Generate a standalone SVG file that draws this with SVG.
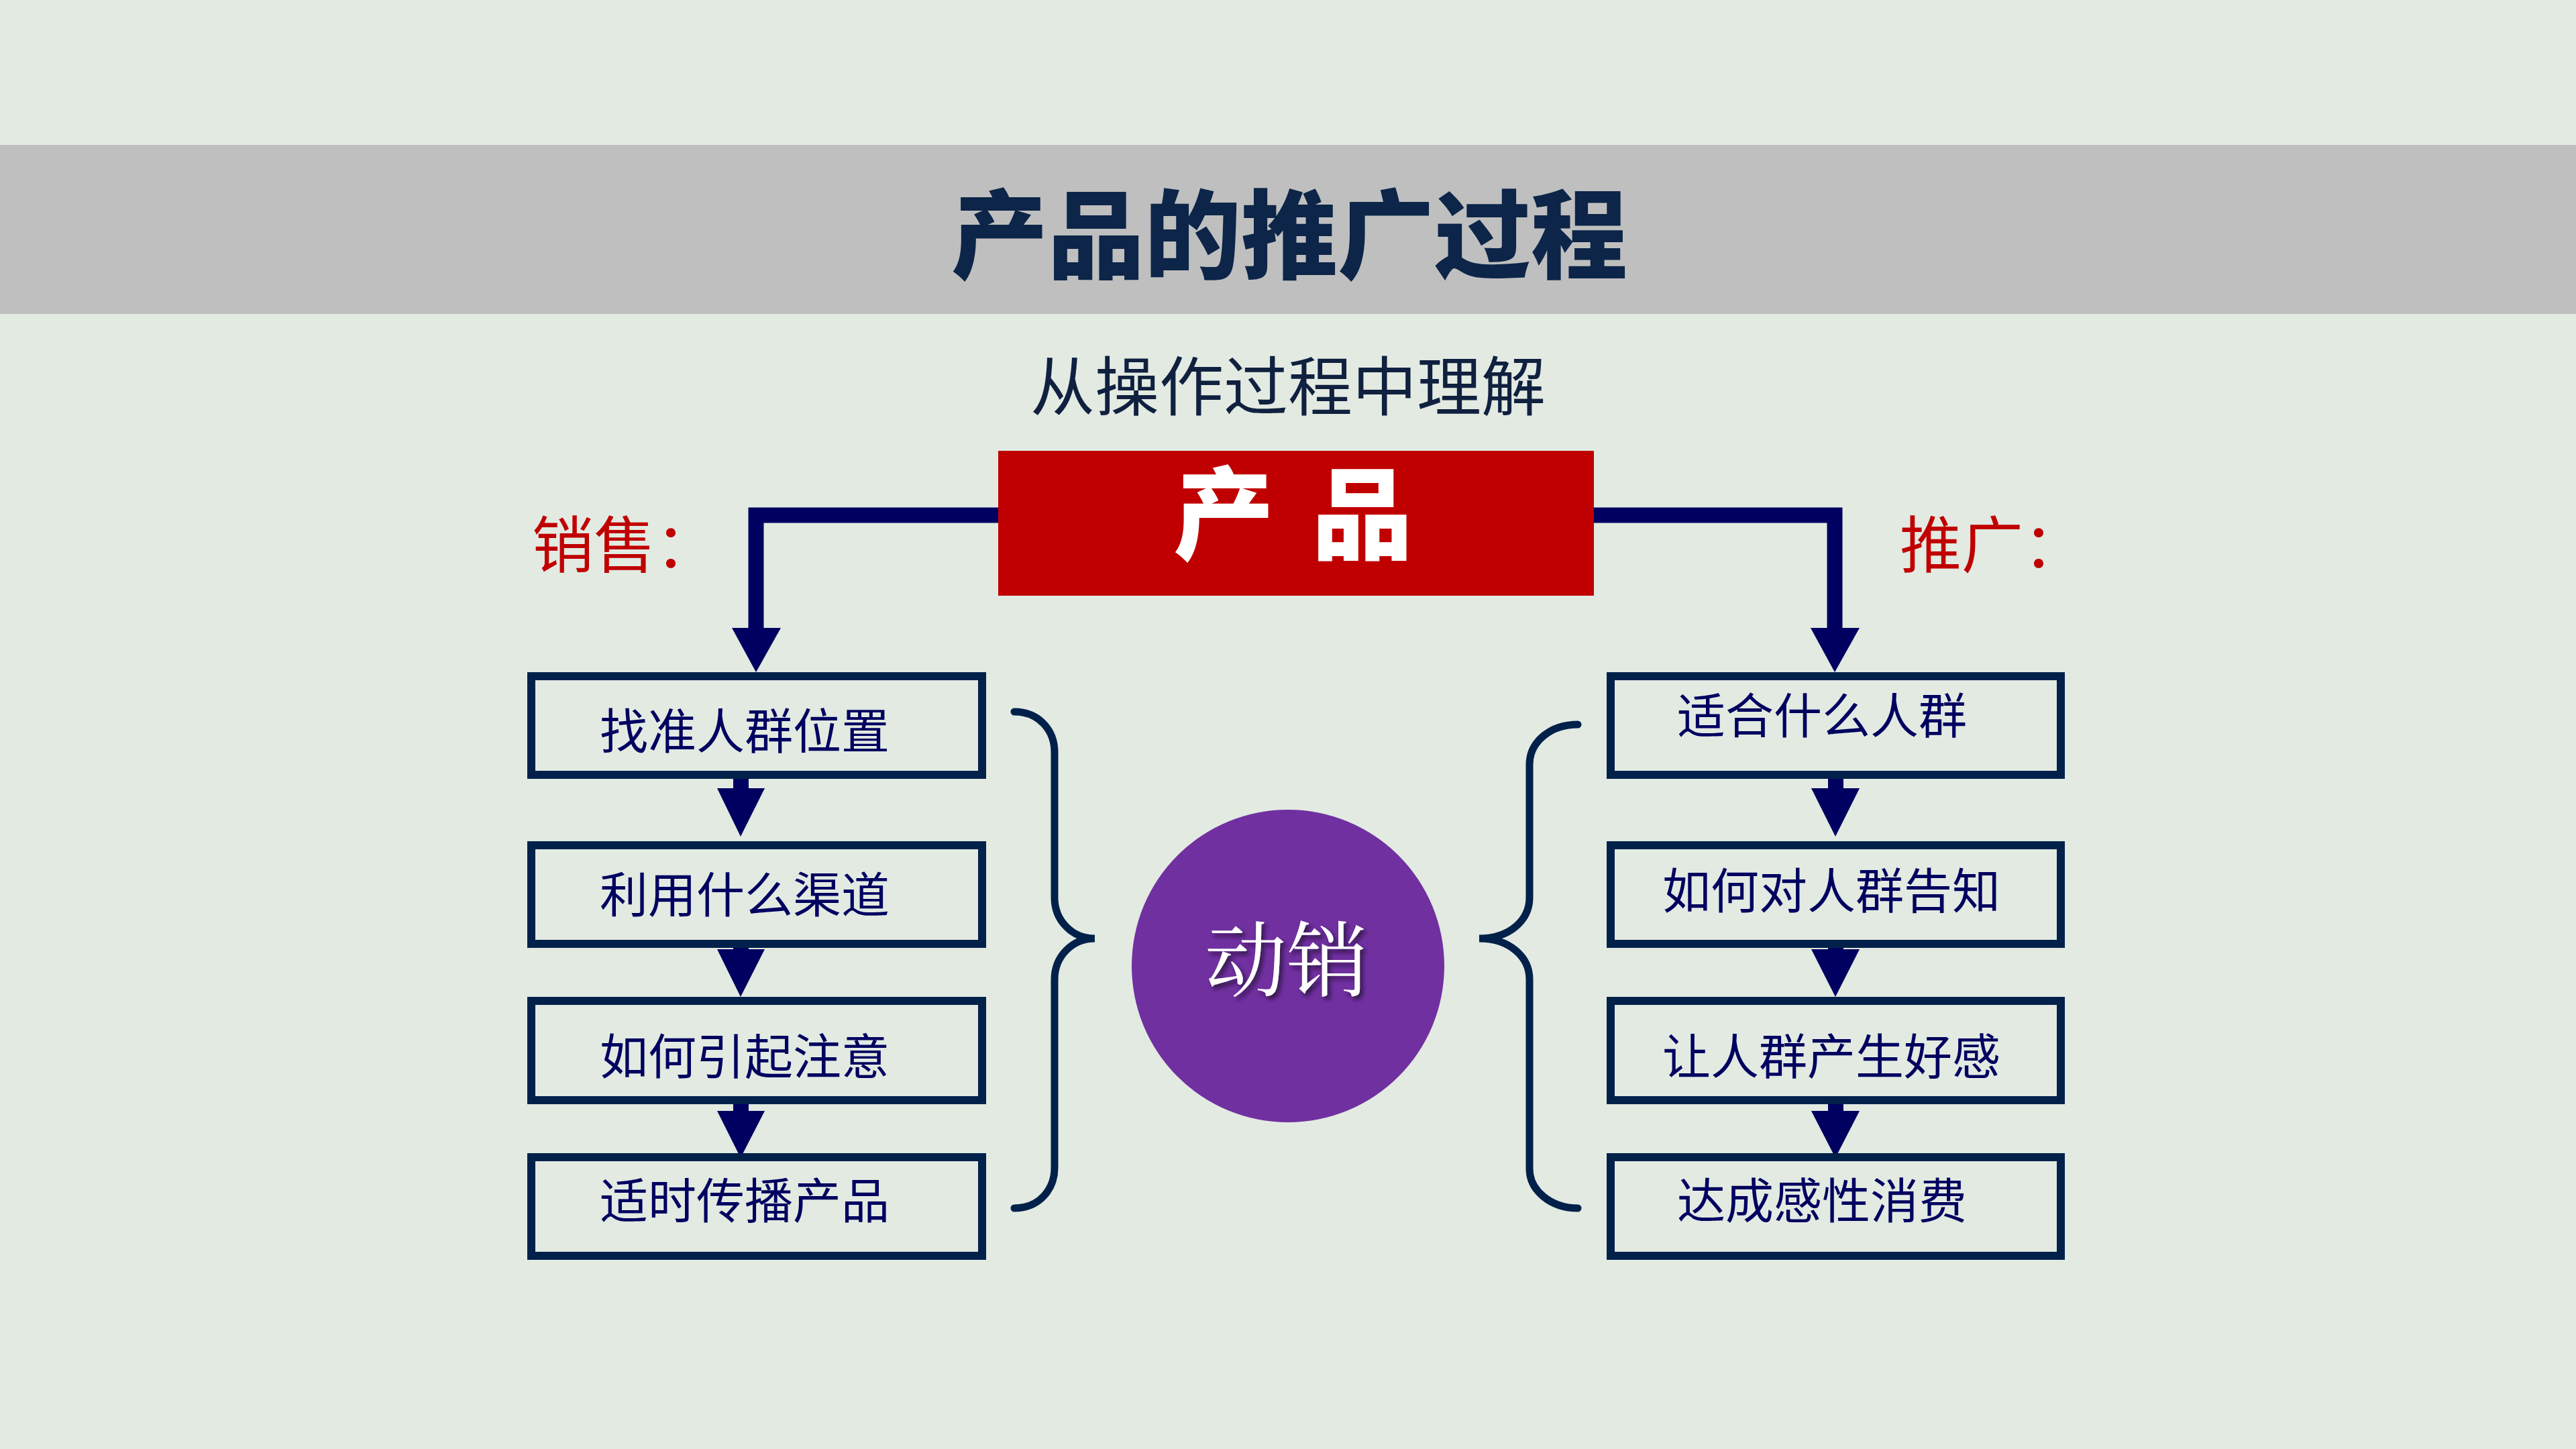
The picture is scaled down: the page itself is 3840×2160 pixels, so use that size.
<svg xmlns="http://www.w3.org/2000/svg" width="3840" height="2160" viewBox="0 0 3840 2160">
<defs>
<style>
.cjk{font-family:"Noto Sans CJK SC","Noto Sans",sans-serif;}
.box{fill:#E2EAE2;stroke:#02214A;stroke-width:12;}
.btxt{font-size:72px;fill:#000060;text-anchor:middle;}
.lbl{font-size:92px;fill:#C00000;}
.conn{fill:none;stroke:#000060;stroke-width:23;stroke-linejoin:miter;}
.head{fill:#000060;}
.brace{fill:none;stroke:#02214A;stroke-width:11;stroke-linecap:round;}
</style>
<filter id="sh" x="-20%" y="-20%" width="140%" height="140%">
<feDropShadow dx="4" dy="5" stdDeviation="3" flood-color="#1a0a2a" flood-opacity="0.75"/>
</filter>
</defs>
<rect x="0" y="0" width="3840" height="2160" fill="#E2EAE2"/>
<rect x="0" y="216" width="3840" height="252" fill="#BFBFBF"/>
<text class="cjk" x="1922" y="404" font-size="144" font-weight="900" fill="#0C2548" text-anchor="middle">产品的推广过程</text>
<text class="cjk" x="1920" y="611" font-size="96" fill="#10203F" text-anchor="middle">从操作过程中理解</text>
<text class="cjk lbl" x="793" y="846">销售：</text>
<text class="cjk lbl" x="2832" y="846">推广：</text>

<g id="connectors">
<path class="conn" d="M1488,768 H1127 V940"/>
<polygon class="head" points="1091,936 1164,936 1127,1002"/>
<path class="conn" d="M2376,768 H2735 V940"/>
<polygon class="head" points="2699,936 2772,936 2735,1002"/>
<rect class="head" x="1093" y="1152" width="23" height="25"/>
<polygon class="head" points="1069,1175 1140,1175 1104,1247"/>
<rect class="head" x="1093" y="1392" width="23" height="25"/>
<polygon class="head" points="1069,1415 1140,1415 1104,1486"/>
<rect class="head" x="1093" y="1633" width="23" height="25"/>
<polygon class="head" points="1069,1656 1140,1656 1104,1726"/>
<rect class="head" x="2725" y="1152" width="23" height="25"/>
<polygon class="head" points="2700,1175 2772,1175 2736,1247"/>
<rect class="head" x="2725" y="1392" width="23" height="25"/>
<polygon class="head" points="2700,1415 2772,1415 2736,1486"/>
<rect class="head" x="2725" y="1633" width="23" height="25"/>
<polygon class="head" points="2700,1656 2772,1656 2736,1726"/>
<path class="brace" d="M1512,1061 C1550,1061 1572,1090 1572,1121 V1338 C1572,1372 1598,1399 1632,1399 C1598,1399 1572,1426 1572,1460 V1741 C1572,1772 1550,1801 1512,1801"/>
<path class="brace" d="M2352,1080 C2312,1080 2280,1105 2280,1140 V1338 C2280,1372 2250,1399 2205,1399 C2250,1399 2280,1426 2280,1460 V1742 C2280,1775 2312,1801 2352,1801"/>
</g>

<g id="product">
<rect x="1488" y="672" width="888" height="216" fill="#C00000"/>
<text class="cjk" x="1933" y="822" font-size="150" font-weight="900" fill="#FFFFFF" text-anchor="middle" letter-spacing="11" xml:space="preserve">产 品</text>
</g>

<g id="s1"><rect class="box" x="792" y="1008" width="672" height="147"/><text class="cjk btxt" x="1110" y="1116">找准人群位置</text></g>
<g id="s2"><rect class="box" x="792" y="1260" width="672" height="147"/><text class="cjk btxt" x="1110" y="1360">利用什么渠道</text></g>
<g id="s3"><rect class="box" x="792" y="1492" width="672" height="148"/><text class="cjk btxt" x="1110" y="1601">如何引起注意</text></g>
<g id="s4"><rect class="box" x="792" y="1725" width="672" height="147"/><text class="cjk btxt" x="1110" y="1816">适时传播产品</text></g>

<g id="p1"><rect class="box" x="2401" y="1008" width="671" height="147"/><text class="cjk btxt" x="2716" y="1093">适合什么人群</text></g>
<g id="p2"><rect class="box" x="2401" y="1260" width="671" height="147"/><text class="cjk btxt" x="2730" y="1354">如何对人群告知</text></g>
<g id="p3"><rect class="box" x="2401" y="1492" width="671" height="148"/><text class="cjk btxt" x="2730" y="1601">让人群产生好感</text></g>
<g id="p4"><rect class="box" x="2401" y="1725" width="671" height="147"/><text class="cjk btxt" x="2716" y="1816">达成感性消费</text></g>

<g id="dongxiao">
<circle cx="1920" cy="1440" r="233" fill="#7030A0"/>
<text x="1918" y="1475" font-family="'Noto Serif CJK SC','Noto Sans CJK SC',serif" font-size="122" fill="#FFFFFF" text-anchor="middle" filter="url(#sh)">动销</text>
</g>
</svg>
